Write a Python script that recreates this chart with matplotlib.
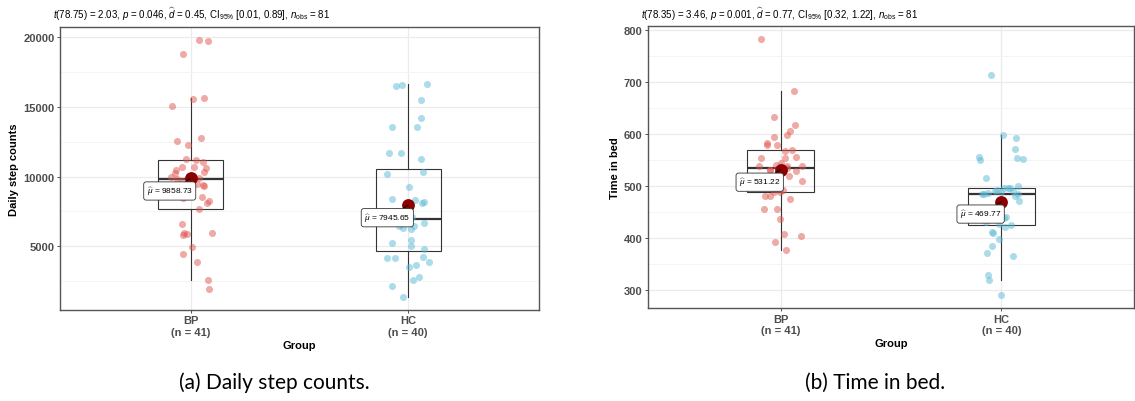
import numpy as np
import matplotlib
matplotlib.use("Agg")
import matplotlib.pyplot as plt

plt.rcParams['font.family'] = ['Liberation Sans', 'DejaVu Sans']
plt.rcParams['mathtext.fontset'] = 'custom'
plt.rcParams['mathtext.rm'] = 'Liberation Sans'
plt.rcParams['mathtext.it'] = 'Liberation Sans:italic'
plt.rcParams['mathtext.bf'] = 'Liberation Sans:bold'

groups = ['BP', 'HC']
group_n = [41, 40]

# panel (a): daily step counts
steps_bp = [19760, 19715, 18740, 15530, 15600, 15030, 12540, 12730, 12250, 11250,
            11160, 11060, 10660, 10490, 10680, 10630, 10250, 10300, 9990, 9900,
            9400, 9350, 8450, 8500, 8280, 8140, 7690, 6620, 5970, 5780,
            5880, 5950, 4950, 4480, 3860, 2600, 1935, 9800, 9700, 9500, 9108]
steps_hc = [16482, 16553, 16625, 15483, 14223, 13558, 13558, 11656, 11703, 11228,
            10349, 10182, 9279, 8400, 8328, 8162, 8091, 6664, 6331, 6260,
            6426, 5452, 5262, 5048, 4810, 4145, 4145, 4216, 3907, 3503,
            3645, 2789, 2575, 2171, 1387, 7500, 7300, 7100, 6850, 6480]
# horizontal jitter (category units)
jit_steps_bp = [0.040, 0.078, -0.034, 0.012, 0.060, -0.083, -0.064, 0.049, -0.011, -0.023,
                0.024, 0.055, -0.038, -0.067, 0.015, 0.072, -0.073, 0.064, -0.092, 0.038,
                0.058, 0.061, -0.035, 0.054, 0.083, 0.075, 0.038, -0.038, -0.029, -0.034,
                -0.015, 0.098, 0.005, -0.034, 0.031, 0.078, 0.086, -0.061, -0.040, 0.030, -0.015]
jit_steps_hc = [-0.057, -0.029, 0.087, 0.060, 0.057, -0.076, 0.041, -0.086, -0.032, 0.060,
                0.069, -0.098, 0.006, -0.076, 0.032, 0.072, 0.064, 0.072, -0.024, 0.012,
                0.029, 0.015, -0.076, 0.012, 0.073, -0.099, -0.061, 0.066, 0.096, 0.002,
                0.038, 0.052, 0.021, -0.075, -0.024, -0.050, -0.030, 0.020, -0.080, -0.040]

# panel (b): time in bed
bed_bp = [784, 682, 632, 618, 605, 599, 595, 583, 579, 579,
          567, 569, 553, 553, 555, 539, 539, 539, 531, 528,
          510, 480, 480, 489, 475, 455, 455, 437, 407, 403,
          391, 377, 545, 540, 535, 530, 525, 520, 515, 493, 489]
bed_hc = [714, 599, 593, 572, 556, 550, 553, 551, 515, 496,
          499, 495, 490, 485, 485, 485, 480, 471, 430, 427,
          421, 425, 411, 409, 398, 384, 370, 365, 329, 318,
          288.8, 495, 492, 490, 488, 487, 455, 440, 440, 439]
jit_bed_bp = [-0.089, 0.061, -0.031, 0.064, 0.043, 0.027, -0.030, -0.063, -0.063, -0.018,
              0.022, 0.051, -0.089, 0.018, 0.071, -0.098, 0.027, 0.095, -0.048, 0.071,
              0.095, -0.071, -0.046, -0.003, 0.042, -0.073, -0.018, -0.003, 0.016, 0.092,
              -0.025, 0.024, 0.000, -0.020, 0.030, -0.050, -0.010, 0.040, -0.060, 0.010, -0.030]
jit_bed_hc = [-0.046, 0.009, 0.068, 0.063, -0.100, -0.095, 0.071, 0.098, -0.071, 0.010,
              0.074, 0.040, -0.027, -0.089, -0.079, 0.074, 0.060, 0.080, -0.071, -0.009,
              0.016, 0.045, -0.042, -0.039, -0.012, -0.042, -0.067, 0.051, -0.060, -0.057,
              0.000, 0.030, -0.020, 0.050, 0.000, -0.060, -0.030, 0.020, -0.050, 0.010]

subtitles = [
    r"$t$(78.75) = 2.03, $p$ = 0.046, $\widehat{d}$ = 0.45, CI$_{95\%}$ [0.01, 0.89], $n_\mathrm{obs}$ = 81",
    r"$t$(78.35) = 3.46, $p$ = 0.001, $\widehat{d}$ = 0.77, CI$_{95\%}$ [0.32, 1.22], $n_\mathrm{obs}$ = 81",
]
ylabels = ['Daily step counts', 'Time in bed']
yticks = [[5000, 10000, 15000, 20000], [300, 400, 500, 600, 700, 800]]
captions = ['(a) Daily step counts.', '(b) Time in bed.']

point_colors = ['#E0574F', '#5BBAD5']
edge = '#333333'

fig = plt.figure(figsize=(11.35, 4.02), dpi=100)
axes_rects = [[60 / 1135, 91.3 / 402, 478.7 / 1135, 282.4 / 402],
              [648 / 1135, 92.7 / 402, 486 / 1135, 282.6 / 402]]
panels = [([steps_bp, steps_hc], [jit_steps_bp, jit_steps_hc]),
          ([bed_bp, bed_hc], [jit_bed_bp, jit_bed_hc])]
sub_x = [53, 641]
cap_x = [274, 875]

for k, (data, jits) in enumerate(panels):
    ax = fig.add_axes(axes_rects[k])
    pos = [1, 2]

    ax.boxplot(data, positions=pos, widths=0.3, showfliers=False, showcaps=False,
               patch_artist=True, zorder=2,
               boxprops=dict(facecolor='none', edgecolor=edge, lw=0.8),
               whiskerprops=dict(color=edge, lw=0.8),
               medianprops=dict(color=edge, lw=1.6))

    for i, (vals, jit) in enumerate(zip(data, jits)):
        ax.scatter(np.array(jit) + pos[i], vals, s=26, color=point_colors[i],
                   alpha=0.5, linewidths=0, zorder=3)
        m = np.mean(vals)
        ax.scatter([pos[i]], [m], s=85, color='#8B0000', zorder=4, linewidths=0)
        ax.annotate(r"$\widehat{\mu}$ = " + f"{m:.2f}", xy=(pos[i], m),
                    xytext=(-15, -9), textcoords='offset points',
                    ha='center', va='center', fontsize=6, zorder=5,
                    bbox=dict(boxstyle='round,pad=0.35,rounding_size=0.3',
                              fc='white', ec='#333333', lw=0.6),
                    arrowprops=dict(arrowstyle='-', color='black', lw=0.6,
                                    shrinkA=0, shrinkB=0))

    ax.set_yticks(yticks[k])
    step = yticks[k][1] - yticks[k][0]
    minor = np.arange(yticks[k][0] - step / 2, yticks[k][-1] + step, step)
    ax.set_yticks(minor, minor=True)
    ax.set_xticks(pos)
    ax.set_xticklabels([f"{g}\n(n = {n})" for g, n in zip(groups, group_n)])

    lo = min(min(d) for d in data)
    hi = max(max(d) for d in data)
    pad = 0.05 * (hi - lo)
    ax.set_ylim(lo - pad, hi + pad)
    ax.set_xlim(0.4, 2.6)

    ax.grid(True, which='major', color='#EBEBEB', lw=0.9)
    ax.grid(True, which='minor', axis='y', color='#F4F4F4', lw=0.7)
    ax.set_axisbelow(True)
    ax.tick_params(axis='both', which='major', length=2.5, width=0.6, color=edge,
                   labelsize=8, labelcolor='#4D4D4D', pad=1.5)
    ax.tick_params(axis='y', which='minor', length=0)
    for lab in ax.get_xticklabels() + ax.get_yticklabels():
        lab.set_fontweight('bold')
    for sp in ax.spines.values():
        sp.set_color('#555555')
        sp.set_linewidth(1.0)

    ax.set_ylabel(ylabels[k], fontsize=8, fontweight='bold', labelpad=3)
    ax.set_xlabel('Group', fontsize=8, fontweight='bold', labelpad=2)

    fig.text(sub_x[k] / 1135, 1 - 14 / 402, subtitles[k], fontsize=7,
             ha='left', va='center')
    fig.text(cap_x[k] / 1135, 1 - 383 / 402, captions[k], fontsize=15,
             family=['Lato', 'DejaVu Sans'], ha='center', va='center')

fig.savefig('out.png', dpi=100)
